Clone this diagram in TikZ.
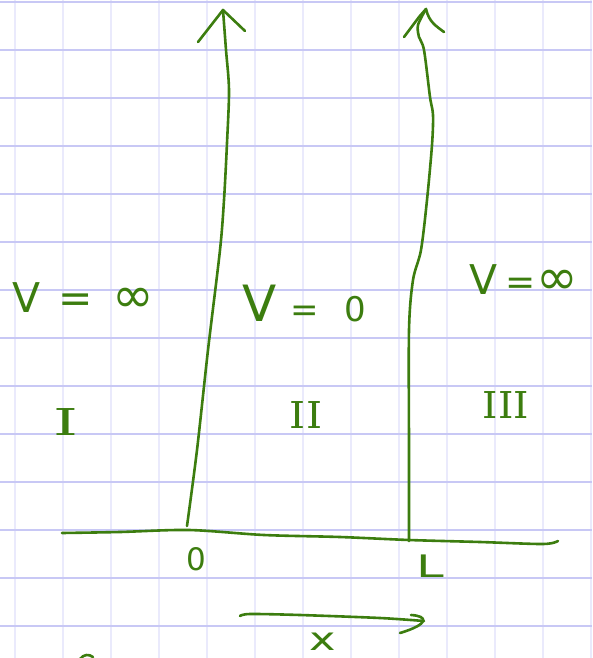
\documentclass[tikz,border=0pt]{standalone}
\usepackage{fontspec}
\newfontfamily\handfont{DejaVu Sans}
\newfontfamily\romfont{DejaVu Serif}
\definecolor{pen}{RGB}{60,125,15}
\definecolor{hgrid}{RGB}{200,200,245}
\definecolor{vgrid}{RGB}{234,234,252}
\newcommand{\bigsym}[2]{{\fontsize{#1}{#1}\selectfont #2}}
\begin{document}
\begin{tikzpicture}[x=1pt,y=-1pt,
  ink/.style={draw=pen, line width=2.6pt, line cap=round, line join=round},
  lbl/.style={text=pen, inner sep=0pt, font=\handfont\fontsize{41}{41}\selectfont},
  numlbl/.style={text=pen, inner sep=0pt, font=\romfont\fontsize{37}{37}\selectfont},
  axlbl/.style={text=pen, inner sep=0pt, font=\handfont\fontsize{31}{31}\selectfont}]
\useasboundingbox (0,0) rectangle (592,658);
\fill[white] (0,0) rectangle (592,658);
% grid paper
\foreach \x in {15,63,...,591} \draw[vgrid, line width=1.5pt] (\x,0) -- (\x,658);
\foreach \y in {2,50,...,626} \draw[hgrid, line width=2pt] (0,\y) -- (592,\y);
% coordinates
\coordinate (lb) at (187,526);
\coordinate (lt) at (223,10);
\coordinate (rb) at (409,541);
\coordinate (rt) at (426,9);
\coordinate (axs) at (62,533);
\coordinate (axe) at (558,541);
\coordinate (xs) at (240,616);
\coordinate (xe) at (424,621);
% horizontal axis
\draw[ink] plot[smooth] coordinates {(axs) (120,532) (189,530) (264,535) (340,537) (409,540) (480,542) (543,544) (axe)};
% left wall
\draw[ink] plot[smooth] coordinates {(lb) (197,450) (208,350) (220,250) (224,200) (227,143) (229,90) (226,50) (lt)};
\draw[ink] (198,42) -- (lt) -- (245,31);
% right wall
\draw[ink] plot[smooth] coordinates {(rb) (409,450) (409,330) (413,280) (421,250) (427,200) (432,145) (433,115) (430,97) (424,50) (419,37) (418,25) (rt)};
\draw[ink] (404,37) -- (419,17) -- (rt) .. controls (429,22) and (436,26) .. (444,32);
% x arrow
\draw[ink] plot[smooth] coordinates {(xs) (250,614) (300,615) (380,618) (xe)};
\draw[ink] (411,615) .. controls (428,616) and (430,624) .. (400,633);
% small stroke at bottom
\draw[ink] (80,659) .. controls (84,654) and (89,654) .. (93,657);
% labels
\node[lbl, anchor=base west] (v1) at (12,312) {V\hspace{18pt}=\hspace{20pt}\bigsym{50}{∞}};
\node[lbl, anchor=base west] (v2) at (242,321) {\bigsym{50}{V}\hspace{14pt}\bigsym{34}{=}\hspace{26pt}\bigsym{34}{0}};
\node[lbl, anchor=base west] (v3) at (469,294) {V\hspace{8pt}\bigsym{36}{=}\hspace{1pt}\bigsym{50}{∞}};
\node[numlbl, anchor=base] (r1) at (66,435) {\scalebox{1.7}[1]{I}};
\node[numlbl, anchor=base] (r2) at (306,428) {\scalebox{1.1}[1]{II}};
\node[numlbl, anchor=base] (r3) at (506,418) {\scalebox{1.05}[1]{III}};
\node[axlbl, anchor=base] (o) at (196,570) {0};
\node[axlbl, anchor=base] (l) at (430,577) {\scalebox{1.6}[1]{L}};
\node[lbl, anchor=base, font=\handfont\fontsize{32}{32}\selectfont] (xl) at (323,650) {\scalebox{1.4}[1]{x}};
\end{tikzpicture}
\end{document}
